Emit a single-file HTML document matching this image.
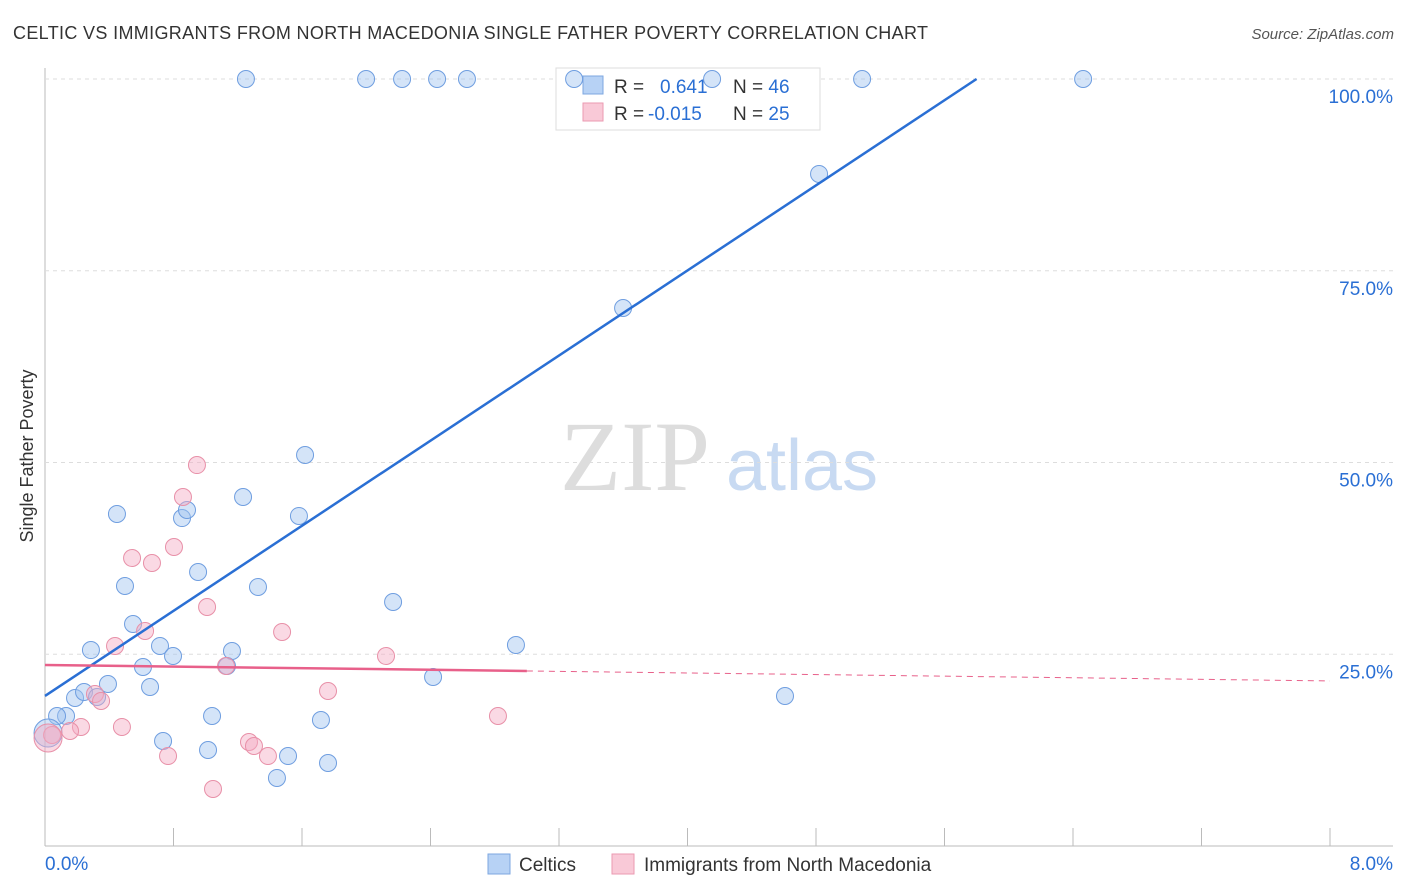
<!DOCTYPE html>
<html><head><meta charset="utf-8"><style>
body{margin:0;background:#fff;font-family:"Liberation Sans",sans-serif;}
svg{display:block}
</style></head><body>
<svg id="c" width="1406" height="892">
<text x="13" y="39" font-size="18" fill="#333" textLength="915">CELTIC VS IMMIGRANTS FROM NORTH MACEDONIA SINGLE FATHER POVERTY CORRELATION CHART</text>
<text x="1394" y="39" font-size="15" fill="#555" font-style="italic" text-anchor="end">Source: ZipAtlas.com</text>
<text x="33" y="456" font-size="18" fill="#333" text-anchor="middle" transform="rotate(-90 33 456)">Single Father Poverty</text>
<g><text x="635" y="490" font-size="100" fill="#ddd" font-family="Liberation Serif,serif" text-anchor="middle">ZIP</text><text x="802" y="490" font-size="72" fill="#c8daf2" text-anchor="middle">atlas</text></g>
<g id="grid"></g>
<g>
<rect x="556" y="68" width="264" height="62" fill="#fff" stroke="#ddd"/>
<rect x="583" y="76" width="20" height="18" fill="#b7d2f5" stroke="#7ea7e0"/>
<rect x="583" y="103" width="20" height="18" fill="#f9c9d7" stroke="#eb9ab2"/>
<text x="614" y="93" font-size="19" fill="#333">R = <tspan x="660" fill="#2a6fd4">0.641</tspan><tspan x="733" fill="#333">N = </tspan><tspan fill="#2a6fd4">46</tspan></text>
<text x="614" y="120" font-size="19" fill="#333">R = <tspan x="648" fill="#2a6fd4">-0.015</tspan><tspan x="733" fill="#333">N = </tspan><tspan fill="#2a6fd4">25</tspan></text>
</g>
<g id="marks"></g>
<g>
<rect x="488" y="854" width="22" height="20" fill="#b7d2f5" stroke="#7ea7e0"/>
<text x="519" y="871" font-size="19" fill="#333">Celtics</text>
<rect x="612" y="854" width="22" height="20" fill="#f9c9d7" stroke="#eb9ab2"/>
<text x="644" y="871" font-size="19" fill="#333">Immigrants from North Macedonia</text>
</g>
<text x="45" y="870" font-size="19" fill="#2a6fd4">0.0%</text>
<text x="1393" y="870" font-size="19" fill="#2a6fd4" text-anchor="end">8.0%</text>
</svg>
<script>
const blueX=[1.251,1.999,2.223,2.441,2.627,3.294,4.153,5.087,6.463,4.819,3.599,1.619,1.233,0.448,0.853,0.884,1.581,0.953,0.498,1.326,2.167,0.548,0.286,0.716,0.797,1.164,0.610,1.133,2.932,0.392,0.654,2.416,0.187,0.243,0.324,4.607,1.040,1.718,0.131,0.075,0.735,1.015,1.513,1.444,1.762,0.019];
const blueY=[100,100,100,100,100,100,100,100,100,87.62,70.14,50.98,45.50,43.29,42.76,43.81,43.03,35.72,33.90,33.77,31.81,28.94,25.55,26.08,24.77,25.42,23.34,23.47,26.21,21.12,20.73,22.03,19.30,20.08,19.43,19.56,16.95,16.43,16.95,16.95,13.69,12.52,11.73,8.87,10.82,14.73];
const pinkX=[0.946,0.859,0.803,0.542,0.666,1.009,0.623,1.476,0.436,1.127,2.123,0.311,0.349,1.762,2.820,0.479,0.224,0.156,0.044,0.019,1.270,1.301,1.388,0.766,1.046];
const pinkY=[49.67,45.50,38.98,37.55,36.90,31.16,28.03,27.90,26.08,23.47,24.77,19.82,18.91,20.21,16.95,15.52,15.52,14.99,14.47,14.08,13.56,13.04,11.73,11.73,7.43];
const yTicks=[25,50,75,100];
const yTickLabels=["25.0%","50.0%","75.0%","100.0%"];
const blueLine=[19.56,13.87]; // intercept, slope
const pinkLine=[23.6,-0.26];
const X0=45,X1=1330,Y0=846,Y100=79;
const sx=v=>X0+(v/8)*(X1-X0), sy=v=>Y0-(v/100)*(Y0-Y100);
const NS="http://www.w3.org/2000/svg";
function mk(t,a,p){const e=document.createElementNS(NS,t);for(const k in a)e.setAttribute(k,a[k]);p.appendChild(e);return e;}
const g=document.getElementById('grid'),m=document.getElementById('marks');
let ax=mk('line',{x1:45,y1:68,x2:45,y2:846,stroke:'#bbb'},g);


let bx=mk('line',{x1:45,y1:846,x2:1393,y2:846,stroke:'#bbb'},g);


for(let i=0;i<=10;i++){const x=sx(i*0.8);const t=mk('line',{x1:x,y1:828,x2:x,y2:846,stroke:'#bbb'},g);

}
yTicks.forEach((v,i)=>{const y=sy(v);const l=mk('line',{x1:45,y1:y,x2:1393,y2:y,stroke:'#ddd','stroke-dasharray':'4,4'},g);


const t=mk('text',{x:1393,y:y+24,'font-size':19,fill:'#2a6fd4','text-anchor':'end'},g);t.textContent=yTickLabels[i];

});
function dots(X,Y,fill,stroke,name){X.forEach((x,i)=>{const big=x<0.03;const c=mk('circle',{cx:sx(x),cy:sy(Y[i]),r:big?14:8.5,fill,stroke,'stroke-width':1},m);

});}
dots(blueX,blueY,'rgba(160,196,240,0.45)','#6f9ee0','celtics-point');
dots(pinkX,pinkY,'rgba(244,170,195,0.45)','#e890a8','macedonia-point');
const bxEnd=(100-blueLine[0])/blueLine[1];
let bl=mk('line',{x1:sx(0),y1:sy(blueLine[0]),x2:sx(bxEnd),y2:sy(100),stroke:'#2a6fd4','stroke-width':2.5},m);


const ps=3.0;
let pl=mk('line',{x1:sx(0),y1:sy(pinkLine[0]),x2:sx(ps),y2:sy(pinkLine[0]+pinkLine[1]*ps),stroke:'#e8608a','stroke-width':2.5},m);


let pd=mk('line',{x1:sx(ps),y1:sy(pinkLine[0]+pinkLine[1]*ps),x2:sx(8),y2:sy(pinkLine[0]+pinkLine[1]*8),stroke:'#e8608a','stroke-width':1,'stroke-dasharray':'6,5'},m);


</script>
</body></html>
